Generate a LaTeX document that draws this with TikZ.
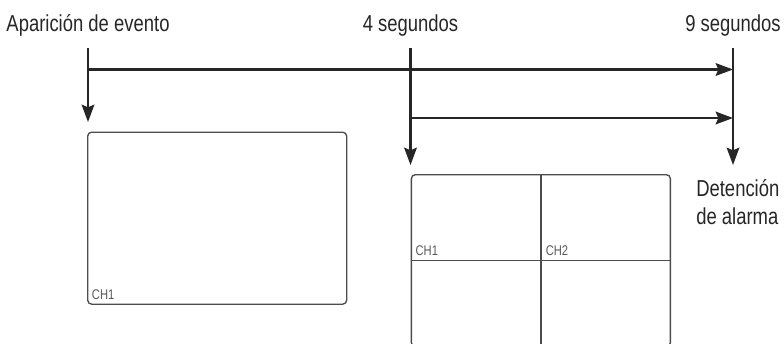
\documentclass[tikz,border=0pt]{standalone}
\usepackage{fontspec}
\setmainfont{Liberation Sans}[FakeStretch=0.8]
\usetikzlibrary{positioning, arrows.meta}

\begin{document}
\begin{tikzpicture}[
    x=0.75pt, y=-0.75pt,
    timelabel/.style={font=\fontsize{17.3}{20.3}\selectfont, text=black!85, inner sep=0pt, anchor=base},
    chlabel/.style={font=\fontsize{10.5}{12}\selectfont, text=black!65, inner sep=0pt, anchor=base west},
    screen/.style={draw=black!70, line width=1pt, rounded corners=3pt, minimum width=194.25pt,
      minimum height=129pt, anchor=north west, inner sep=0pt},
    timeline/.style={draw=black!85, line width=1.6pt},
    arrow/.style={-{Stealth[length=13pt,width=9.5pt,inset=2pt]}, timeline}
  ]
  \useasboundingbox (0,0) rectangle (784,343);

  % labels
  \node[timelabel] (lblEvt) at (88,31) {Aparición de evento};
  \node[timelabel] (lblFour) at (410.5,31) {4 segundos};
  \node[timelabel] (lblNine) at (733,31) {9 segundos};
  \node[timelabel, anchor=base west, align=left] (lblStop) at (696,224) {Detención\\de alarma};

  % time marks
  \coordinate (evtTop) at (88,48);
  \coordinate (evtEnd) at (88,122);
  \coordinate (evtMid) at (88,69.5);
  \coordinate (fourTop) at (410.5,48);
  \coordinate (fourEnd) at (410.5,165);
  \coordinate (fourMid) at (410.5,118);
  \coordinate (nineTop) at (733,48);
  \coordinate (nineEnd) at (733,165);
  \coordinate (nineA) at (733,69.5);
  \coordinate (nineB) at (733,118);

  \draw[arrow] (evtTop) -- (evtEnd);
  \draw[arrow] (fourTop) -- (fourEnd);
  \draw[arrow] (nineTop) -- (nineEnd);
  \draw[arrow] (evtMid) -- (nineA);
  \draw[arrow] (fourMid) -- (nineB);

  % screens
  \node[screen] (single) at (87,131.5) {};
  \node[chlabel] (singleCh) at ([xshift=3.5pt, yshift=3.75pt]single.south west) {CH1};

  \node[screen] (quad) at (410.7,174) {};
  \draw[draw=black!70, line width=1pt] (quad.north) -- (quad.south);
  \draw[draw=black!70, line width=1pt] (quad.west) -- (quad.east);
  \node[chlabel] (quadChA) at ([xshift=3.5pt, yshift=3.75pt]quad.west) {CH1};
  \node[chlabel] (quadChB) at ([xshift=3.5pt, yshift=3.75pt]quad.center) {CH2};
\end{tikzpicture}
\end{document}
